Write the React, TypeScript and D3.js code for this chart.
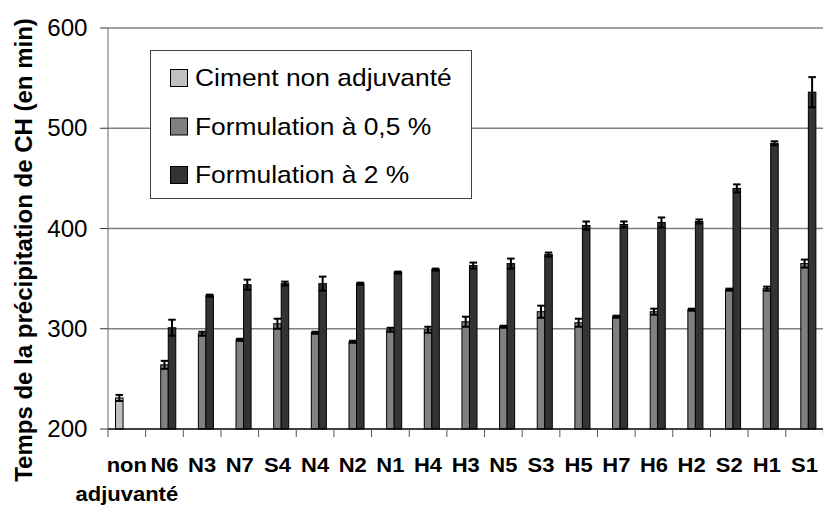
import React, { useEffect } from "react";
import * as d3 from "d3";

const categories = ["non adjuvanté", "N6", "N3", "N7", "S4", "N4", "N2", "N1", "H4", "H3", "N5", "S3", "H5", "H7", "H6", "H2", "S2", "H1", "S1"];
const seriesNames = ["Ciment non adjuvanté", "Formulation à 0,5 %", "Formulation à 2 %"];
const seriesColors = ["#c0c0c0", "#808080", "#333333"];
const cimentValues: (number | null)[] = [231, null, null, null, null, null, null, null, null, null, null, null, null, null, null, null, null, null, null];
const cimentErrors: (number | null)[] = [3, null, null, null, null, null, null, null, null, null, null, null, null, null, null, null, null, null, null];
const f05Values: (number | null)[] = [null, 264, 295, 289, 305, 296, 287, 299, 299, 307, 302, 317, 306, 312, 317, 319, 339, 340, 365];
const f05Errors: (number | null)[] = [null, 4, 2, 1, 5, 1, 1, 2, 3, 5, 1, 6, 4, 1, 3, 1, 1, 2, 4];
const f2Values: (number | null)[] = [null, 301, 333, 344, 345, 345, 345, 356, 359, 363, 365, 374, 403, 404, 406, 407, 440, 485, 536];
const f2Errors: (number | null)[] = [null, 8, 1, 5, 2, 7, 1, 1, 1, 3, 5, 2, 4, 3, 5, 2, 4, 2, 15];
const yTicks = [200, 300, 400, 500, 600];

const W = 823;
const H = 507;
const FONT = "'Liberation Sans', Arial, sans-serif";

export default function App() {
  useEffect(() => {
    document.body.style.margin = "0";
  }, []);

  const x = d3.scaleBand<string>().domain(categories).range([108, 823.4]).padding(0);
  const step = x.step();
  const inner = d3.scaleBand<number>().domain([0, 1, 2]).range([step / 5, (step * 4) / 5]).padding(0);
  const y = d3.scaleLinear().domain([200, 600]).range([429, 28]);

  const series = [
    { values: cimentValues, errors: cimentErrors },
    { values: f05Values, errors: f05Errors },
    { values: f2Values, errors: f2Errors },
  ];

  const bw = inner.bandwidth();

  return (
    <svg width={W} height={H} style={{ position: "absolute", left: 0, top: 0, background: "#fff" }} fontFamily={FONT}>
      <rect x={0} y={0} width={W} height={H} fill="#fff" />
      {/* gridlines */}
      {yTicks.filter((t) => t > 200).map((t) => (
        <line key={"g" + t} x1={108} x2={W} y1={y(t)} y2={y(t)} stroke="#808080" strokeWidth={1.5} />
      ))}
      {/* y axis */}
      <line x1={108} x2={108} y1={y(600)} y2={y(200)} stroke="#808080" strokeWidth={1.2} />
      {yTicks.map((t) => (
        <g key={"t" + t}>
          <line x1={100} x2={108} y1={y(t)} y2={y(t)} stroke="#333" strokeWidth={1} />
          <text transform={`translate(87.5,${y(t) + 8}) scale(1.05,1)`} textAnchor="end" fontSize={23} fill="#000">
            {t}
          </text>
        </g>
      ))}
      {/* bars */}
      {series.map((s, si) =>
        categories.map((c, ci) => {
          const v = s.values[ci];
          if (v == null) return null;
          const x0 = (x(c) as number) + (inner(si) as number);
          return (
            <rect key={`b${si}-${ci}`} x={x0} y={y(v)} width={bw} height={y(200) - y(v)} fill={seriesColors[si]} stroke="#000" strokeWidth={1} />
          );
        })
      )}
      {/* error bars */}
      {series.map((s, si) =>
        categories.map((c, ci) => {
          const v = s.values[ci];
          const e = s.errors[ci];
          if (v == null || e == null) return null;
          const cx = (x(c) as number) + (inner(si) as number) + bw / 2;
          const hw = bw / 2;
          return (
            <g key={`e${si}-${ci}`} stroke="#000" strokeWidth={2}>
              <line x1={cx} x2={cx} y1={y(v + e)} y2={y(v - e)} />
              <line x1={cx - hw} x2={cx + hw} y1={y(v + e)} y2={y(v + e)} />
              <line x1={cx - hw} x2={cx + hw} y1={y(v - e)} y2={y(v - e)} />
            </g>
          );
        })
      )}
      {/* x axis */}
      <line x1={108} x2={W} y1={y(200)} y2={y(200)} stroke="#000" strokeWidth={1.5} />
      {d3.range(categories.length + 1).map((i) => (
        <line key={"xt" + i} x1={108 + i * step} x2={108 + i * step} y1={y(200)} y2={y(200) + 8} stroke="#555" strokeWidth={1} />
      ))}
      {categories.map((c) => {
        const cx = (x(c) as number) + step / 2;
        const lines = c.split(" ");
        return lines.map((ln, li) => (
          <text key={c + li} transform={`translate(${cx},${472 + li * 29}) scale(1.1,1)`} textAnchor="middle" fontSize={20} fontWeight="bold" fill="#000">
            {ln}
          </text>
        ));
      })}
      {/* y title */}
      <text transform={`translate(32,250) rotate(-90)`} textAnchor="middle" fontSize={24} fontWeight="bold" fill="#000">
        Temps de la précipitation de CH (en min)
      </text>
      {/* legend */}
      <rect x={150.5} y={50.5} width={321} height={148} fill="#fff" stroke="#444" strokeWidth={1} />
      {seriesNames.map((n, i) => (
        <g key={"l" + i}>
          <rect x={170.5} y={69.5 + i * 48.5} width={17} height={17} fill={seriesColors[i]} stroke="#000" strokeWidth={1} />
          <text transform={`translate(195,${86 + i * 48.5}) scale(1.1,1)`} fontSize={24} fill="#000">
            {n}
          </text>
        </g>
      ))}
    </svg>
  );
}
